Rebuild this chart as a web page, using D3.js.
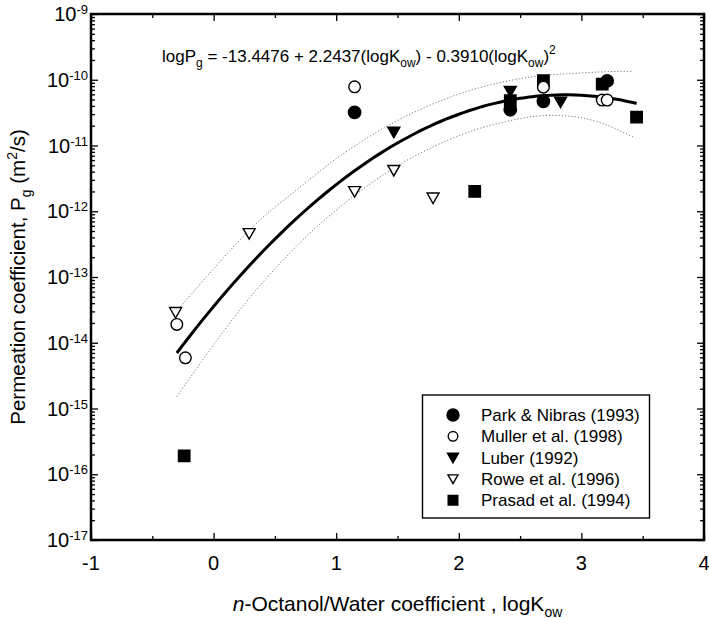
<!DOCTYPE html>
<html>
<head>
<meta charset="utf-8">
<script src="https://cdn.jsdelivr.net/npm/d3@7"></script>
<style>
body { margin: 0; background: #fff; }
svg { font-family: "Liberation Sans", Arial, sans-serif; }
</style>
</head>
<body>
<div id="cContainer"></div>
<script>
// values: logKow and Pg (m2/s)
var parkX = [1.15, 2.42, 2.69, 3.21];
var parkY = [3.2e-11, 3.5e-11, 4.7e-11, 9.6e-11];
var mullerX = [-0.30, -0.23, 1.15, 2.69, 3.17, 3.21];
var mullerY = [1.9e-14, 5.9e-15, 7.8e-11, 7.7e-11, 4.9e-11, 4.9e-11];
var luberX = [1.47, 2.42, 2.83];
var luberY = [1.6e-11, 6.7e-11, 4.6e-11];
var roweX = [-0.31, 0.29, 1.15, 1.47, 1.79];
var roweY = [2.9e-14, 4.6e-13, 2.0e-12, 4.2e-12, 1.6e-12];
var prasadX = [-0.24, 2.13, 2.42, 2.69, 3.17, 3.45];
var prasadY = [1.9e-16, 2.0e-12, 4.8e-11, 9.7e-11, 8.6e-11, 2.7e-11];

// regression from the equation printed on the plot
var fitCoef = [-13.4476, 2.2437, -0.3910];
var fitRange = [-0.3, 3.45];

// dotted band (log10 Pg)
var upperX = [-0.27, 0.27, 0.62, 0.95, 1.19, 1.43, 1.76, 2.17, 2.58, 2.88, 3.17, 3.42];
var upperLog = [-13.45, -12.33, -11.76, -11.27, -10.96, -10.69, -10.39, -10.12, -9.96, -9.91, -9.88, -9.87];
var lowerX = [-0.30, 0.21, 0.62, 0.95, 1.49, 2.03, 2.33, 2.60, 2.88, 3.15, 3.42];
var lowerLog = [-14.82, -13.51, -12.64, -12.06, -11.32, -10.83, -10.66, -10.56, -10.55, -10.65, -10.87];

var xTicks = [-1, 0, 1, 2, 3, 4];
var xMinorTicks = [-0.5, 0.5, 1.5, 2.5, 3.5];
var yExponents = [-17, -16, -15, -14, -13, -12, -11, -10, -9];

var legendNames = ["Park & Nibras (1993)", "Muller et al. (1998)", "Luber (1992)", "Rowe et al. (1996)", "Prasad et al. (1994)"];

var width = 709, height = 619;
var pLeft = 91, pRight = 704, pTop = 14, pBottom = 540;

var svg = d3.select("#cContainer").append("svg")
	.attr("width", width)
	.attr("height", height);

var x = d3.scaleLinear().domain([-1, 4]).range([pLeft, pRight]);
var y = d3.scaleLog().domain([1e-17, 1e-9]).range([pBottom, pTop]);

// minor log ticks
var yMinor = [];
for (var e = -17; e < -9; e++) {
	for (var m = 2; m < 10; m++) {
		yMinor.push(m * Math.pow(10, e));
	}
}
var yMajor = yExponents.map(function(e) { return Math.pow(10, e); });

function drawAxis(axis, tx, ty) {
	var g = svg.append("g")
		.attr("transform", "translate(" + tx + "," + ty + ")")
		.call(axis);
	g.select(".domain").remove();
	g.selectAll("text").remove();
	g.selectAll("line").attr("stroke", "#000").attr("stroke-width", 1.3);
	return g;
}

drawAxis(d3.axisBottom(x).tickValues(xTicks).tickSizeInner(-7), 0, pBottom);
drawAxis(d3.axisBottom(x).tickValues(xMinorTicks).tickSizeInner(-4), 0, pBottom);
drawAxis(d3.axisTop(x).tickValues(xTicks).tickSizeInner(-7), 0, pTop);
drawAxis(d3.axisTop(x).tickValues(xMinorTicks).tickSizeInner(-4), 0, pTop);
drawAxis(d3.axisLeft(y).tickValues(yMajor).tickSizeInner(-7), pLeft, 0);
drawAxis(d3.axisLeft(y).tickValues(yMinor).tickSizeInner(-4), pLeft, 0);
drawAxis(d3.axisRight(y).tickValues(yMajor).tickSizeInner(-7), pRight, 0);
drawAxis(d3.axisRight(y).tickValues(yMinor).tickSizeInner(-4), pRight, 0);

// frame
svg.append("rect")
	.attr("x", pLeft)
	.attr("y", pTop)
	.attr("width", pRight - pLeft)
	.attr("height", pBottom - pTop)
	.attr("fill", "none")
	.attr("stroke", "#000")
	.attr("stroke-width", 2.5);

// tick labels
svg.selectAll(".xlab")
	.data(xTicks)
	.enter()
	.append("text")
	.attr("x", function(d) { return x(d); })
	.attr("y", 570)
	.attr("text-anchor", "middle")
	.style("font-size", "20px")
	.text(function(d) { return d; });

var ylab = svg.selectAll(".ylab")
	.data(yExponents)
	.enter()
	.append("text")
	.attr("x", 88)
	.attr("y", function(d) { return y(Math.pow(10, d)) + 7; })
	.attr("text-anchor", "end")
	.style("font-size", "20px");
ylab.append("tspan").text("10");
ylab.append("tspan")
	.attr("dy", -7)
	.style("font-size", "13px")
	.text(function(d) { return d; });

// axis titles
var xt = svg.append("text")
	.attr("x", (pLeft + pRight) / 2)
	.attr("y", 611)
	.attr("text-anchor", "middle")
	.style("font-size", "21px");
xt.append("tspan").style("font-style", "italic").text("n");
xt.append("tspan").text("-Octanol/Water coefficient , logK");
xt.append("tspan").attr("dy", 6).style("font-size", "14px").text("ow");

var yt = svg.append("text")
	.attr("transform", "translate(25," + ((pTop + pBottom) / 2) + ") rotate(-90)")
	.attr("text-anchor", "middle")
	.style("font-size", "20.5px");
yt.append("tspan").text("Permeation coefficient, P");
yt.append("tspan").attr("dy", 6).style("font-size", "14px").text("g");
yt.append("tspan").attr("dy", -6).text(" (m");
yt.append("tspan").attr("dy", -8).style("font-size", "14px").text("2");
yt.append("tspan").attr("dy", 8).text("/s)");

// equation
var eq = svg.append("text")
	.attr("x", 162)
	.attr("y", 62)
	.style("font-size", "17px");
eq.append("tspan").text("logP");
eq.append("tspan").attr("dy", 5).style("font-size", "12px").text("g");
eq.append("tspan").attr("dy", -5).text(" = " + fitCoef[0].toFixed(4) + " + " + fitCoef[1].toFixed(4) + "(logK");
eq.append("tspan").attr("dy", 5).style("font-size", "12px").text("ow");
eq.append("tspan").attr("dy", -5).text(") - " + Math.abs(fitCoef[2]).toFixed(4) + "(logK");
eq.append("tspan").attr("dy", 5).style("font-size", "12px").text("ow");
eq.append("tspan").attr("dy", -5).text(")");
eq.append("tspan").attr("dy", -8).style("font-size", "12px").text("2");

// curves
var logLine = d3.line()
	.x(function(d) { return x(d[0]); })
	.y(function(d) { return y(Math.pow(10, d[1])); })
	.curve(d3.curveNatural);

svg.append("path")
	.attr("d", logLine(upperX.map(function(v, i) { return [v, upperLog[i]]; })))
	.attr("fill", "none")
	.attr("stroke", "#777")
	.attr("stroke-width", 1)
	.attr("stroke-dasharray", "1.2,2");
svg.append("path")
	.attr("d", logLine(lowerX.map(function(v, i) { return [v, lowerLog[i]]; })))
	.attr("fill", "none")
	.attr("stroke", "#777")
	.attr("stroke-width", 1)
	.attr("stroke-dasharray", "1.2,2");

var fitPts = d3.range(fitRange[0], fitRange[1] + 0.001, 0.05).map(function(v) {
	return [v, fitCoef[0] + fitCoef[1] * v + fitCoef[2] * v * v];
});
svg.append("path")
	.attr("d", logLine(fitPts))
	.attr("fill", "none")
	.attr("stroke", "#000")
	.attr("stroke-width", 3);

// markers
function tri(h) {
	return "M" + (-h) + "," + (-h * 0.8) + "L" + h + "," + (-h * 0.8) + "L0," + (h * 0.95) + "Z";
}
function sq(h) {
	return "M" + (-h) + "," + (-h) + "h" + (2 * h) + "v" + (2 * h) + "h" + (-2 * h) + "Z";
}
function circ(r) {
	return "M" + (-r) + ",0a" + r + "," + r + " 0 1,0 " + (2 * r) + ",0a" + r + "," + r + " 0 1,0 " + (-2 * r) + ",0Z";
}

var series = [
	{ xs: prasadX, ys: prasadY, path: sq(5.7), fill: "#000" },
	{ xs: parkX, ys: parkY, path: circ(6.2), fill: "#000" },
	{ xs: luberX, ys: luberY, path: tri(6), fill: "#000" },
	{ xs: mullerX, ys: mullerY, path: circ(5.8), fill: "#fff" },
	{ xs: roweX, ys: roweY, path: tri(6), fill: "#fff" }
];

series.forEach(function(s) {
	svg.append("g").selectAll("path")
		.data(s.xs)
		.enter()
		.append("path")
		.attr("transform", function(d, i) { return "translate(" + x(d) + "," + y(s.ys[i]) + ")"; })
		.attr("d", s.path)
		.attr("fill", s.fill)
		.attr("stroke", "#000")
		.attr("stroke-width", 1.4);
});

// legend
var legend = svg.append("g");
legend.append("rect")
	.attr("x", 422.5)
	.attr("y", 395)
	.attr("width", 227)
	.attr("height", 123)
	.attr("fill", "#fff")
	.attr("stroke", "#000")
	.attr("stroke-width", 1.4);

var legendPaths = [circ(6), circ(4.8), tri(5.5), tri(5), sq(4.8)];
var legendFill = ["#000", "#fff", "#000", "#fff", "#000"];
legendNames.forEach(function(name, i) {
	var ly = 415 + i * 21.3;
	legend.append("path")
		.attr("transform", "translate(453," + ly + ")")
		.attr("d", legendPaths[i])
		.attr("fill", legendFill[i])
		.attr("stroke", "#000")
		.attr("stroke-width", 1.4);
	legend.append("text")
		.attr("x", 481)
		.attr("y", ly + 6)
		.style("font-size", "17px")
		.text(name);
});
</script>
</body>
</html>
